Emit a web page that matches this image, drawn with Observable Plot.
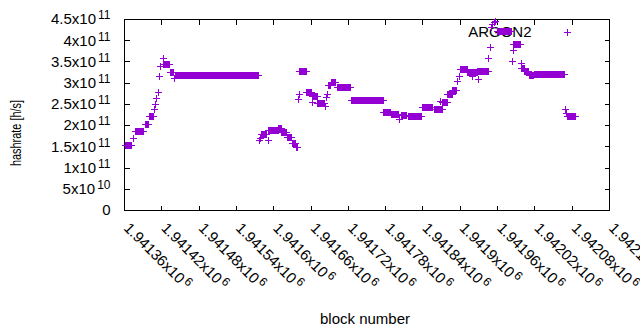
<!DOCTYPE html>
<html>
<head>
<meta charset="utf-8">
<script src="https://cdn.jsdelivr.net/npm/d3@7"></script>
<script src="https://cdn.jsdelivr.net/npm/@observablehq/plot@0.6"></script>
<style>
  html, body { margin: 0; padding: 0; background: #fff; }
  #chart { width: 640px; height: 330px; overflow: hidden; }
</style>
</head>
<body>
<div id="chart"></div>
<script>
// Runs of blocks with the same hashrate value (single points have start == end)
const runStart = [
  1941362, 1941375, 1941378, 1941393, 1941401, 1941408, 1941410, 1941411, 1941414, 1941417,
  1941418, 1941422, 1941423, 1941434, 1941440, 1941442, 1941577, 1941578, 1941580, 1941591,
  1941592, 1941608, 1941613, 1941622, 1941630, 1941636, 1941640, 1941641, 1941642, 1941653,
  1941662, 1941663, 1941671, 1941683, 1941685, 1941687, 1941688, 1941693, 1941702, 1941725,
  1941777, 1941789, 1941803, 1941805, 1941816, 1941839, 1941858, 1941869, 1941872, 1941880,
  1941888, 1941895, 1941898, 1941900, 1941912, 1941919, 1941928, 1941930, 1941946, 1941949,
  1941950, 1941952, 1941955, 1941957, 1941960, 1941984, 1941985, 1941986, 1941998, 1941999,
  1942004, 1942011, 1942019, 1942069, 1942071, 1942073
];
const runEnd = [
  1941372, 1941375, 1941390, 1941399, 1941407, 1941408, 1941410, 1941411, 1941414, 1941417,
  1941418, 1941422, 1941432, 1941439, 1941440, 1941575, 1941577, 1941578, 1941589, 1941591,
  1941607, 1941612, 1941621, 1941629, 1941635, 1941639, 1941640, 1941641, 1941652, 1941661,
  1941662, 1941670, 1941682, 1941683, 1941685, 1941687, 1941692, 1941699, 1941724, 1941776,
  1941788, 1941801, 1941803, 1941814, 1941838, 1941856, 1941871, 1941869, 1941879, 1941887,
  1941894, 1941895, 1941898, 1941911, 1941927, 1941919, 1941945, 1941930, 1941946, 1941949,
  1941950, 1941952, 1941955, 1941957, 1941982, 1941984, 1941985, 1941997, 1941998, 1942003,
  1942010, 1942018, 1942068, 1942069, 1942071, 1942085
];
const runValue = [
  1.52e11, 1.70e11, 1.87e11, 2.03e11, 2.21e11, 2.37e11, 2.50e11, 2.63e11, 2.79e11, 3.16e11,
  3.40e11, 3.58e11, 3.45e11, 3.25e11, 3.10e11, 3.17e11, 1.66e11, 1.70e11, 1.79e11, 1.66e11,
  1.88e11, 1.93e11, 1.84e11, 1.73e11, 1.59e11, 1.49e11, 2.62e11, 2.73e11, 3.28e11, 2.77e11,
  2.55e11, 2.68e11, 2.53e11, 2.44e11, 2.66e11, 2.73e11, 2.95e11, 3.01e11, 2.90e11, 2.59e11,
  2.31e11, 2.27e11, 2.15e11, 2.24e11, 2.21e11, 2.42e11, 2.39e11, 2.57e11, 2.55e11, 2.74e11,
  2.82e11, 3.03e11, 3.16e11, 3.33e11, 3.25e11, 3.16e11, 3.28e11, 3.08e11, 3.58e11, 3.83e11,
  4.31e11, 4.38e11, 4.43e11, 4.46e11, 4.21e11, 3.51e11, 3.77e11, 3.90e11, 3.46e11, 3.35e11,
  3.28e11, 3.17e11, 3.20e11, 2.39e11, 2.28e11, 2.21e11
];

const xTicks = [1941360, 1941420, 1941480, 1941540, 1941600, 1941660, 1941720, 1941780,
                1941840, 1941900, 1941960, 1942020, 1942080, 1942140];
const xTickLabels = ["1.94136x10^6", "1.94142x10^6", "1.94148x10^6", "1.94154x10^6", "1.9416x10^6",
                     "1.94166x10^6", "1.94172x10^6", "1.94178x10^6", "1.94184x10^6", "1.9419x10^6",
                     "1.94196x10^6", "1.94202x10^6", "1.94208x10^6", "1.94214x10^6"];
const yTicks = [0, 5e10, 1e11, 1.5e11, 2e11, 2.5e11, 3e11, 3.5e11, 4e11, 4.5e11];
const yTickLabels = ["0", "5x10^10", "1x10^11", "1.5x10^11", "2x10^11", "2.5x10^11",
                     "3x10^11", "3.5x10^11", "4x10^11", "4.5x10^11"];
const seriesName = "ARGON2";
const xTitle = "block number";
const yTitle = "hashrate [h/s]";

const points = [];
runStart.forEach((s, i) => {
  for (let b = s; b <= runEnd[i]; b++) points.push({block: b, hashrate: runValue[i]});
});

const plusSymbol = {
  draw(ctx, size) {
    const r = Math.sqrt(size / Math.PI);
    ctx.moveTo(-r, 0); ctx.lineTo(r, 0);
    ctx.moveTo(0, -r); ctx.lineTo(0, r);
  }
};
function tickSymbol(ux, uy) {
  return {
    draw(ctx, size) {
      const r = Math.sqrt(size / Math.PI);
      ctx.moveTo(0, 0); ctx.lineTo(ux * r, uy * r);
    }
  };
}
const purple = "#9400d3";
const tickOpts = {r: 5, stroke: "black", fill: "none", strokeWidth: 1, shapeRendering: "crispEdges"};

const chart = Plot.plot({
  width: 640,
  height: 330,
  marginLeft: 124,
  marginRight: 31,
  marginTop: 19,
  marginBottom: 120,
  style: {fontFamily: "'Liberation Sans', Arial, sans-serif", fontSize: "15px", color: "black", background: "white", overflow: "visible"},
  x: {domain: [1941360, 1942140], axis: null},
  y: {domain: [0, 4.5e11], axis: null},
  marks: [
    Plot.frame({stroke: "black", strokeWidth: 1, shapeRendering: "crispEdges"}),
    Plot.dot(yTicks, {y: d => d, frameAnchor: "left", symbol: tickSymbol(1, 0), ...tickOpts}),
    Plot.dot(yTicks, {y: d => d, frameAnchor: "right", symbol: tickSymbol(-1, 0), ...tickOpts}),
    Plot.dot(xTicks, {x: d => d, frameAnchor: "bottom", symbol: tickSymbol(0, -1), ...tickOpts}),
    Plot.dot(xTicks, {x: d => d, frameAnchor: "top", symbol: tickSymbol(0, 1), ...tickOpts}),
    Plot.text(yTicks, {y: d => d, frameAnchor: "left", text: (d, i) => yTickLabels[i],
                       textAnchor: "end", lineAnchor: "middle", dx: -14, fontSize: 15}),
    Plot.text(xTicks, {x: d => d, frameAnchor: "bottom", text: (d, i) => xTickLabels[i],
                       rotate: 45, textAnchor: "start", lineAnchor: "middle", dx: 2, dy: 15, fontSize: 15}),
    Plot.text([xTitle], {frameAnchor: "bottom", text: d => d, lineAnchor: "middle", dx: -2, dy: 109, fontSize: 15}),
    Plot.text([yTitle], {frameAnchor: "left", text: d => d, rotate: -90, lineAnchor: "middle",
                         textAnchor: "middle", dx: -108, dy: 18, fontSize: 15}),
    Plot.text([seriesName], {frameAnchor: "top-right", text: d => d, textAnchor: "end",
                             lineAnchor: "middle", dx: -78, dy: 13, fontSize: 15}),
    Plot.dot([seriesName], {frameAnchor: "top-right", dx: -42, dy: 13, symbol: plusSymbol, r: 3.5,
                            stroke: purple, fill: "none", strokeWidth: 1, shapeRendering: "crispEdges"}),
    Plot.dot(points, {x: "block", y: "hashrate", symbol: plusSymbol, r: 3.5, stroke: purple,
                      fill: "none", strokeWidth: 1, shapeRendering: "crispEdges"})
  ]
});

// gnuplot-style superscript exponents
chart.querySelectorAll("text").forEach(t => {
  const s = t.textContent;
  const k = s.indexOf("^");
  if (k < 0) return;
  t.textContent = s.slice(0, k);
  const ts = document.createElementNS("http://www.w3.org/2000/svg", "tspan");
  ts.setAttribute("dx", "2");
  ts.setAttribute("dy", "-5");
  ts.setAttribute("font-size", "12");
  ts.textContent = s.slice(k + 1);
  t.appendChild(ts);
});
chart.querySelectorAll("text").forEach(t => {
  if (t.textContent === yTitle) {
    t.setAttribute("textLength", "66");
    t.setAttribute("lengthAdjust", "spacingAndGlyphs");
  }
});

document.getElementById("chart").appendChild(chart);
</script>
</body>
</html>
